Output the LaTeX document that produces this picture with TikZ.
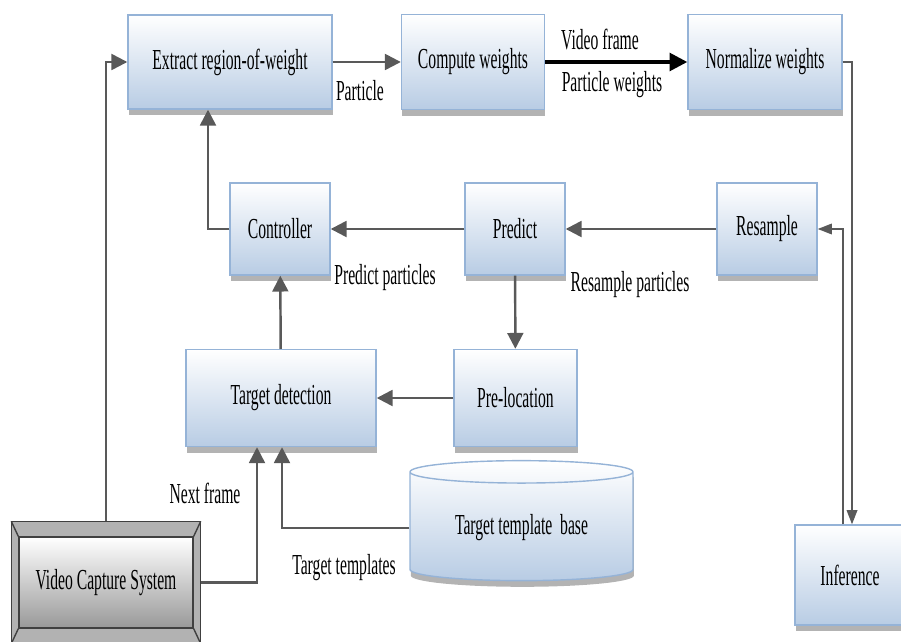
\documentclass[tikz,border=0pt]{standalone}
\usepackage{fontspec}
\setmainfont{Liberation Serif}[FakeStretch=0.54]
\usetikzlibrary{arrows.meta,calc,positioning,shapes.geometric,shadows}
\definecolor{boxblue}{HTML}{B8CCE4}
\definecolor{boxedge}{HTML}{95B3D7}
\definecolor{linegray}{HTML}{595959}
\tikzset{
  block/.style={draw=boxedge, line width=0.8pt, top color=white, bottom color=boxblue,
    drop shadow={shadow xshift=0.5pt, shadow yshift=-3.5pt, fill=black!50, opacity=0.6},
    inner sep=2pt},
  flow/.style={draw=linegray, line width=1.4pt, -{Triangle[length=9pt,width=9pt]}},
  thinflow/.style={draw=linegray, line width=0.9pt, -{Triangle[length=8pt,width=6pt]}},
  lbl/.style={inner sep=1pt}
}
\begin{document}
\begin{tikzpicture}[font=\fontsize{16.5}{19}\selectfont]
  \useasboundingbox (0,0) rectangle (18.02,-12.82);
  % top row
  \node[block,minimum width=4.08cm,minimum height=1.88cm] (extract) at (4.6,-1.24) {Extract region-of-weight};
  \node[block,minimum width=2.86cm,minimum height=1.9cm] (compute) at (9.46,-1.24) {Compute weights};
  \node[block,minimum width=3.08cm,minimum height=1.9cm] (normalize) at (15.3,-1.24) {Normalize weights};
  % middle row
  \node[block,minimum width=2cm,minimum height=1.84cm] (controller) at (5.6,-4.58) {Controller};
  \node[block,minimum width=2cm,minimum height=1.84cm] (predict) at (10.3,-4.58) {Predict};
  \node[block,minimum width=2cm,minimum height=1.84cm] (resample) at (15.34,-4.58) {Resample};
  \node[block,minimum width=3.8cm,minimum height=1.94cm] (target) at (5.62,-7.96) {Target detection};
  \node[block,minimum width=2.46cm,minimum height=1.94cm] (preloc) at (10.31,-7.96) {Pre-location};
  % bottom row
  \node[block,cylinder,shape border rotate=90,aspect=0.16,minimum width=4.46cm,minimum height=2.4cm,
    cylinder uses custom fill,cylinder end fill=white] (base) at (10.43,-10.56) {Target template\ \ base};
  \node[block,minimum width=2.2cm,minimum height=2cm] (inference) at (17,-11.5) {Inference};
  \node[draw=black!75,line width=0.8pt,top color=white,bottom color=black!40,
    minimum width=3.48cm,minimum height=1.82cm] (vcs) at (2.12,-11.65) {Video Capture System};
  \fill[black!30,even odd rule,draw=black!75,line width=0.8pt]
    ($(vcs.north west)+(-0.14,0.3)$) rectangle ($(vcs.south east)+(0.14,-0.3)$)
    (vcs.north west) rectangle (vcs.south east);
  \draw[black!75,line width=0.8pt] ($(vcs.north west)+(-0.14,0.3)$) -- (vcs.north west)
    ($(vcs.north east)+(0.14,0.3)$) -- (vcs.north east)
    ($(vcs.south west)+(-0.14,-0.3)$) -- (vcs.south west)
    ($(vcs.south east)+(0.14,-0.3)$) -- (vcs.south east);
  % connectors
  \draw[flow] ($(vcs.north)+(0,0.3)$) |- (extract.west);
  \draw[flow] (extract) -- (compute) node[lbl,pos=0.4,below=0.3cm] (lparticle) {Particle};
  \draw[draw=black,line width=2pt,-{Triangle[length=10pt,width=10pt]}] (compute) -- (normalize);
  \node[lbl] (lvideo) at (12.0,-0.8) {Video frame};
  \node[lbl] (lweights) at (12.24,-1.7) {Particle weights};
  \draw[thinflow] (normalize.east) -| ([xshift=0.04cm]inference.north);
  \draw[thinflow] ([xshift=-0.14cm]inference.north) |- (resample.east);
  \draw[flow] (resample) -- (predict);
  \node[lbl] (lresample) at (12.6,-5.7) {Resample particles};
  \draw[flow] (predict) -- (controller);
  \node[lbl] (lpredict) at (7.7,-5.56) {Predict particles};
  \draw[flow] (controller.west) -| ([xshift=-0.44cm]extract.south);
  \draw[flow] (predict) -- (preloc);
  \draw[flow] (preloc) -- (target);
  \draw[flow] (target) -- (controller);
  \draw[flow] ($(vcs.east)+(0.14,0)$) -| ([xshift=-0.48cm]target.south);
  \node[lbl] (lnext) at (4.1,-9.86) {Next frame};
  \draw[flow] (base.west) -| ([xshift=0.02cm]target.south);
  \node[lbl] (ltempl) at (6.88,-11.36) {Target templates};
\end{tikzpicture}
\end{document}
